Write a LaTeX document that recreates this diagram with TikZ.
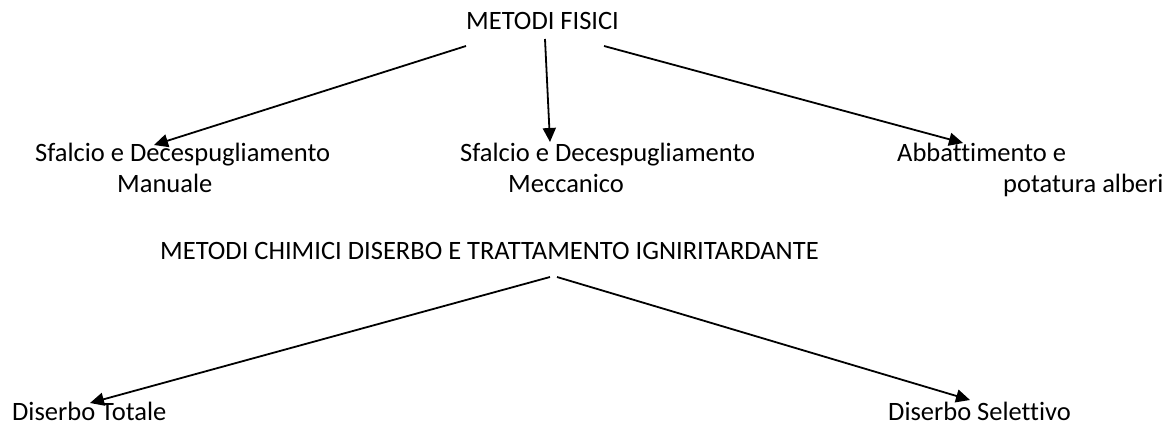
\documentclass[tikz,border=0pt]{standalone}
\usepackage{fontspec}
\setmainfont{Carlito}[Ligatures={NoCommon,NoContextual,NoRare},Contextuals=NoAlternate]
\usetikzlibrary{arrows.meta}
\tikzset{
  lbl/.style={anchor=base west, inner sep=0pt, font=\fontsize{26.5}{32}\selectfont},
  arr/.style={-{Triangle[length=14pt,width=13pt]}, line width=1.8pt}
}
\begin{document}
\begin{tikzpicture}[x=1pt,y=-1pt]
\useasboundingbox (0,0) rectangle (1168,425);
% metodi fisici
\node[lbl] (fisici) at (466,30) {METODI FISICI};
\node[lbl] (manuale) at (35,162) {Sfalcio e Decespugliamento};
\node[lbl] (manuale2) at (117,193) {Manuale};
\node[lbl] (meccanico) at (460,162) {Sfalcio e Decespugliamento};
\node[lbl] (meccanico2) at (508,193) {Meccanico};
\node[lbl] (alberi) at (897,162) {Abbattimento e};
\node[lbl] (alberi2) at (1003,193) {potatura alberi};
\coordinate (fisici-l) at (466,46);
\coordinate (fisici-m) at (545,39);
\coordinate (fisici-r) at (604,46);
\coordinate (manuale-t) at (154,145);
\coordinate (meccanico-t) at (550,142);
\coordinate (alberi-t) at (963,143);
\draw[arr] (fisici-l) -- (manuale-t);
\draw[arr] (fisici-m) -- (meccanico-t);
\draw[arr] (fisici-r) -- (alberi-t);
% metodi chimici
\node[lbl] (chimici) at (160,259) {METODI CHIMICI DISERBO E TRATTAMENTO IGNIRITARDANTE};
\node[lbl] (totale) at (12,420) {Diserbo Totale};
\node[lbl] (selettivo) at (888,420) {Diserbo Selettivo};
\coordinate (chimici-l) at (550,277);
\coordinate (chimici-r) at (557,277);
\coordinate (totale-t) at (90,403);
\coordinate (selettivo-t) at (970,400);
\draw[arr] (chimici-l) -- (totale-t);
\draw[arr] (chimici-r) -- (selettivo-t);
\end{tikzpicture}
\end{document}
